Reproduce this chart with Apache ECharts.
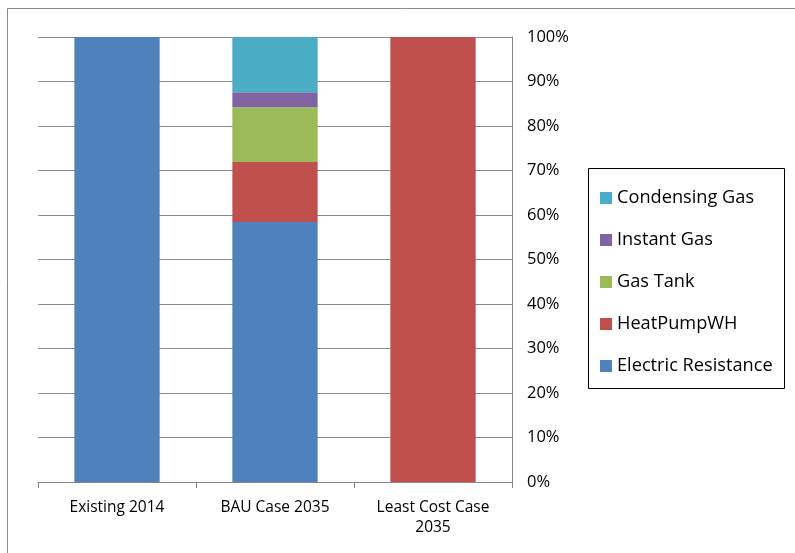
<!DOCTYPE html>
<html><head><meta charset="utf-8">
<script src="https://cdn.jsdelivr.net/npm/echarts@6/dist/echarts.min.js"></script>
<style>html,body{margin:0;padding:0;background:#fff}#c{width:795px;height:553px}</style>
</head><body><div id="c"></div>
<script>
var categories = ['Existing 2014', 'BAU Case 2035', 'Least Cost Case\n2035'];
var electricResistance = [100, 58.4, 0];
var heatPumpWH = [0, 13.5, 100];
var gasTank = [0, 12.3, 0];
var instantGas = [0, 3.4, 0];
var condensingGas = [0, 12.4, 0];
var yTicks = [0, 10, 20, 30, 40, 50, 60, 70, 80, 90, 100];

var font = 'Open Sans';
var chart = echarts.init(document.getElementById('c'));
function s(name, data, color) {
  return {name: name, type: 'bar', stack: 'a', data: data, barWidth: '54%',
    itemStyle: {color: color}, emphasis: {disabled: true}};
}
chart.setOption({
  animation: false,
  graphic: [
    {type: 'rect', shape: {x: 7.5, y: 8.5, width: 820, height: 580},
      style: {fill: 'none', stroke: '#8c8c8c', lineWidth: 1}, silent: true},
    {type: 'rect', shape: {x: 588.5, y: 168.5, width: 196, height: 220},
      style: {fill: 'none', stroke: '#000', lineWidth: 1}, silent: true}
  ],
  grid: {left: 38, right: 283, top: 37, bottom: 71},
  legend: {
    data: ['Condensing Gas', 'Instant Gas', 'Gas Tank', 'HeatPumpWH', 'Electric Resistance'],
    orient: 'vertical', left: 588, top: 168,
    padding: [20, 10, 12, 12], itemGap: 22, itemWidth: 12, itemHeight: 12,
    icon: 'rect',
    textStyle: {fontFamily: font, fontSize: 18.2, lineHeight: 20, color: '#000', padding: [0, 0, 0, 0]}
  },
  xAxis: {
    type: 'category', data: categories,
    axisLine: {lineStyle: {color: '#888', width: 1}},
    axisTick: {show: true, length: 6, lineStyle: {color: '#888'}},
    axisLabel: {fontFamily: font, fontSize: 15.5, color: '#000', margin: 16, lineHeight: 20, interval: 0}
  },
  yAxis: {
    type: 'value', position: 'right', min: 0, max: 100, interval: 10,
    axisLine: {show: true, lineStyle: {color: '#888', width: 1}},
    axisTick: {show: false},
    splitLine: {lineStyle: {color: '#8c8c8c', width: 1}},
    axisLabel: {fontFamily: font, fontSize: 16.5, color: '#000', margin: 15,
      formatter: function (v) { return yTicks.indexOf(v) >= 0 ? v + '%' : ''; }}
  },
  series: [
    s('Electric Resistance', electricResistance, '#4F81BD'),
    s('HeatPumpWH', heatPumpWH, '#C0504D'),
    s('Gas Tank', gasTank, '#9BBB59'),
    s('Instant Gas', instantGas, '#8064A2'),
    s('Condensing Gas', condensingGas, '#4BACC6')
  ]
});
</script></body></html>
